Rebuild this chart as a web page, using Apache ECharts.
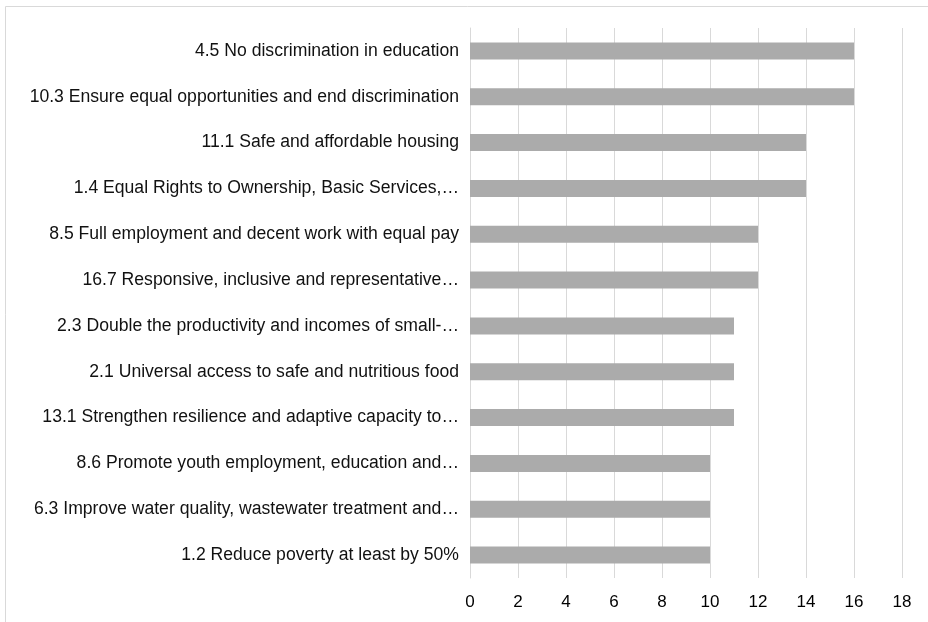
<!DOCTYPE html>
<html>
<head>
<meta charset="utf-8">
<script src="https://cdn.jsdelivr.net/npm/echarts@6/dist/echarts.min.js"></script>
<style>
  html, body { margin: 0; padding: 0; background: #fff; }
  #chart { width: 928px; height: 622px; }
</style>
</head>
<body>
<div id="chart"></div>
<script>
// targets, listed top to bottom as in the picture
const targets = [
  "4.5 No discrimination in education",
  "10.3 Ensure equal opportunities and end discrimination",
  "11.1 Safe and affordable housing",
  "1.4 Equal Rights to Ownership, Basic Services,\u2026",
  "8.5 Full employment and decent work with equal pay",
  "16.7 Responsive, inclusive and representative\u2026",
  "2.3 Double the productivity and incomes of small-\u2026",
  "2.1 Universal access to safe and nutritious food",
  "13.1 Strengthen resilience and adaptive capacity to\u2026",
  "8.6 Promote youth employment, education and\u2026",
  "6.3 Improve water quality, wastewater treatment and\u2026",
  "1.2 Reduce poverty at least by 50%"
];
const counts = [16, 16, 14, 14, 12, 12, 11, 11, 11, 10, 10, 10];
const xTicks = [0, 2, 4, 6, 8, 10, 12, 14, 16, 18];

var chart = echarts.init(document.getElementById("chart"), null, { renderer: "canvas" });

var option = {
  animation: false,
  textStyle: { fontFamily: "Liberation Sans, Arial, sans-serif" },
  graphic: [
    {
      type: "polyline",
      shape: { points: [[5.5, 640], [5.5, 6.5], [940, 6.5]] },
      style: { stroke: "#d9d9d9", lineWidth: 1, fill: null }
    }
  ],
  grid: { left: 470, right: 26, top: 28, bottom: 44 },
  xAxis: {
    type: "value",
    min: xTicks[0],
    max: xTicks[xTicks.length - 1],
    interval: 2,
    axisLine: { show: false },
    axisTick: { show: false },
    splitLine: { show: true, lineStyle: { color: "#d9d9d9", width: 1 } },
    axisLabel: { color: "#000", fontSize: 17, margin: 16 }
  },
  yAxis: {
    type: "category",
    inverse: true,
    data: targets,
    axisLine: { show: true, lineStyle: { color: "#d9d9d9" } },
    axisTick: { show: false },
    axisLabel: { color: "#111", fontSize: 17.6, margin: 11 }
  },
  series: [
    {
      type: "bar",
      data: counts,
      barWidth: "37%",
      itemStyle: { color: "#ababab" }
    }
  ]
};

chart.setOption(option);
</script>
</body>
</html>
